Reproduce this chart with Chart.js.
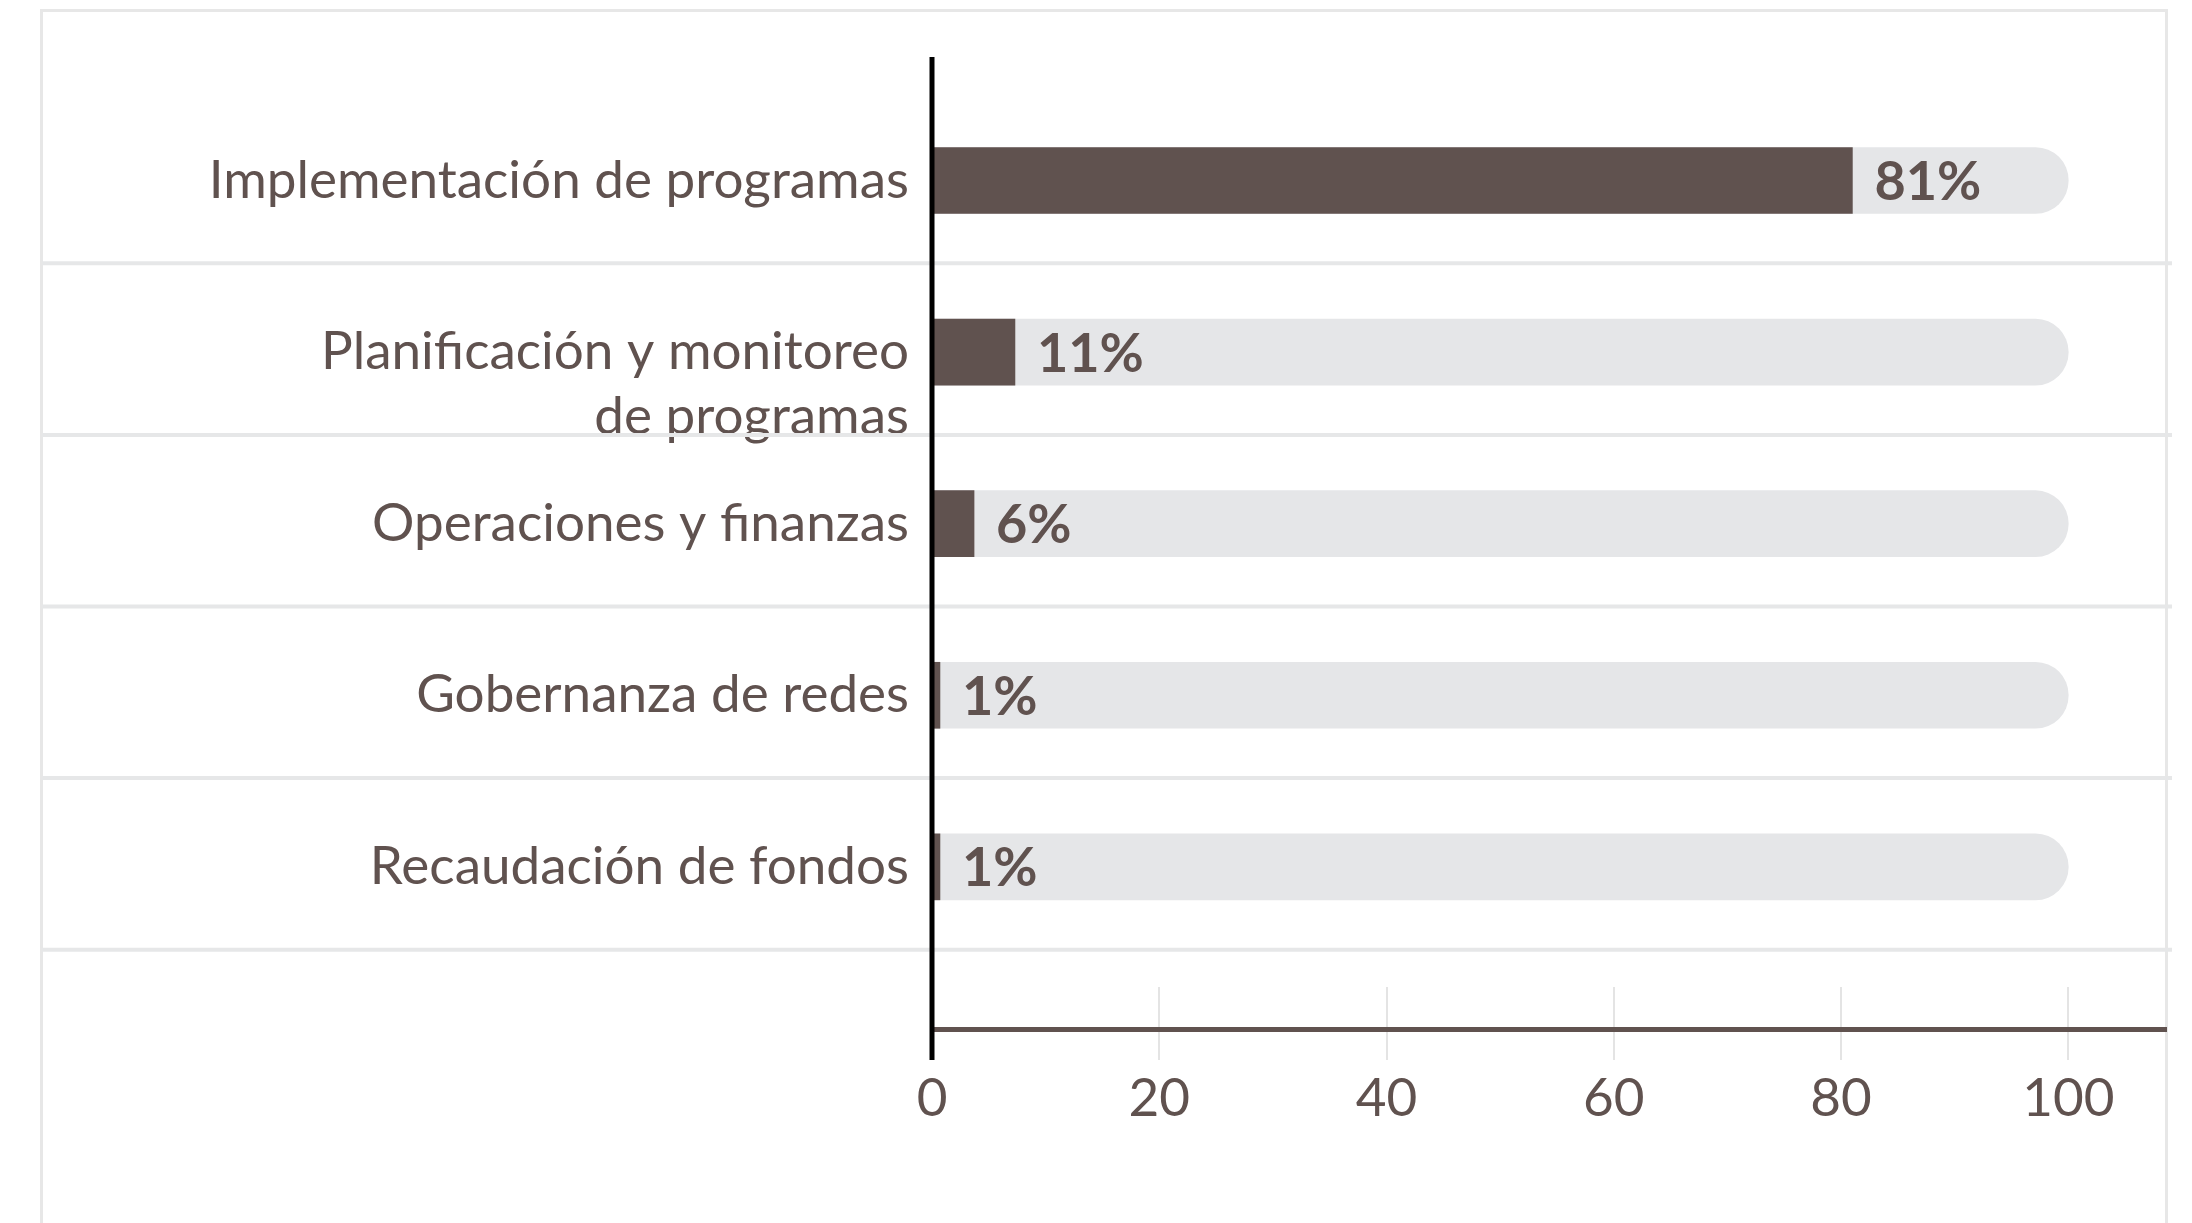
<!DOCTYPE html>
<html lang="es">
<head>
<meta charset="utf-8">
<title>Distribución por área</title>
<script src="https://cdn.jsdelivr.net/npm/chart.js@4.4.1/dist/chart.umd.min.js"></script>
<style>
    html, body { margin: 0; padding: 0; background: #ffffff; overflow: hidden; }
    #tarjeta {
        position: absolute; left: 40px; top: 9px; width: 2128px; height: 1400px;
        box-sizing: border-box; border: 3px solid #e7e7e7;
    }
    #grafica { position: absolute; left: 0; top: 0; }
</style>
</head>
<body>
<div id="tarjeta"></div>
<canvas id="grafica" width="2192" height="1223"></canvas>
<script>
// Datos del gráfico
const categorias = [
    'Implementación de programas',
    ['Planificación y monitoreo', 'de programas'],
    'Operaciones y finanzas',
    'Gobernanza de redes',
    'Recaudación de fondos'
];
const valoresBarras = [81, 7.3, 3.7, 0.7, 0.7];
const etiquetasValores = ['81%', '11%', '6%', '1%', '1%'];
const valoresFondo = [100, 100, 100, 100, 100];
const ticksX = [0, 20, 40, 60, 80, 100];

const colorTexto = '#60524f';
const colorBarra = '#60524f';
const colorFondo = '#e5e6e8';
const colorLinea = '#e6e7e8';

// Plugin para líneas separadoras, marcas del eje y etiquetas de valor
const decoraciones = {
    id: 'decoraciones',
    beforeDraw(chart) {
        const { ctx, chartArea, scales: { x } } = chart;
        ctx.save();
        ctx.strokeStyle = '#e4e4e4';
        ctx.lineWidth = 2;
        ticksX.forEach(function (v) {
            if (v === 0) return; // el eje vertical cubre el cero
            const px = Math.round(x.getPixelForValue(v));
            ctx.beginPath();
            ctx.moveTo(px, chartArea.bottom - 42);
            ctx.lineTo(px, chartArea.bottom + 31);
            ctx.stroke();
        });
        ctx.restore();
    },
    afterDatasetsDraw(chart) {
        const { ctx } = chart;
        const meta = chart.getDatasetMeta(1);
        ctx.save();
        ctx.fillStyle = colorTexto;
        ctx.font = 'bold 54px Lato';
        ctx.textAlign = 'left';
        ctx.textBaseline = 'middle';
        meta.data.forEach(function (bar, i) {
            ctx.fillText(etiquetasValores[i], bar.x + 22, bar.y + 2);
        });
        ctx.restore();
    },
    afterDraw(chart) {
        const { ctx, chartArea, scales: { y } } = chart;
        ctx.save();
        // Separadores entre categorías
        ctx.strokeStyle = colorLinea;
        ctx.lineWidth = 4;
        categorias.forEach(function (c, i) {
            const py = y.getPixelForValue(i + 0.5) - 3;
            ctx.beginPath();
            ctx.moveTo(42, py);
            ctx.lineTo(2172, py);
            ctx.stroke();
        });
        // Eje vertical negro
        ctx.strokeStyle = '#000000';
        ctx.lineWidth = 5;
        ctx.beginPath();
        ctx.moveTo(chartArea.left, chartArea.top);
        ctx.lineTo(chartArea.left, chartArea.bottom + 31);
        ctx.stroke();
        ctx.restore();
    }
};

const ctx = document.getElementById('grafica').getContext('2d');

const config = {
    type: 'bar',
    data: {
        datasets: [
            {
                label: 'Fondo',
                data: valoresFondo.map((v, i) => ({ x: v, y: i })),
                backgroundColor: colorFondo,
                borderRadius: 33,
                borderSkipped: 'start',
                barThickness: 66,
                grouped: false,
                order: 2
            },
            {
                label: 'Porcentaje',
                data: valoresBarras.map((v, i) => ({ x: v, y: i })),
                backgroundColor: colorBarra,
                borderRadius: 0,
                barThickness: 66,
                grouped: false,
                order: 1
            }
        ]
    },
    options: {
        indexAxis: 'y',
        responsive: false,
        animation: false,
        devicePixelRatio: 1,
        layout: {
            padding: { left: 0, right: 26, top: 57, bottom: 0 }
        },
        plugins: {
            legend: { display: false },
            tooltip: { enabled: false }
        },
        scales: {
            x: {
                type: 'linear',
                position: 'bottom',
                min: 0,
                max: 108.6,
                afterBuildTicks: function (scale) {
                    scale.ticks = ticksX.map(v => ({ value: v }));
                },
                afterFit: function (scale) {
                    scale.height = 194;
                },
                grid: { display: false, drawTicks: false },
                border: { display: true, color: colorBarra, width: 5 },
                ticks: {
                    color: colorTexto,
                    padding: 38,
                    maxRotation: 0,
                    font: { family: 'Lato', size: 53 }
                }
            },
            y: {
                type: 'linear',
                reverse: true,
                offset: false,
                min: -0.72,
                max: 4.945,
                afterBuildTicks: function (scale) {
                    scale.ticks = categorias.map((c, i) => ({ value: i }));
                },
                afterFit: function (scale) {
                    scale.width = 932;
                },
                grid: { display: false, drawTicks: false },
                border: { display: false },
                ticks: {
                    color: colorTexto,
                    padding: 23,
                    autoSkip: false,
                    font: { family: 'Lato', size: 53, lineHeight: 1.22 },
                    callback: function (value) {
                        const c = categorias[value];
                        // Primera línea alineada con la barra, la segunda debajo
                        return Array.isArray(c) ? [''].concat(c) : c;
                    }
                }
            }
        }
    },
    plugins: [decoraciones]
};

const miGrafica = new Chart(ctx, config);
</script>
</body>
</html>
